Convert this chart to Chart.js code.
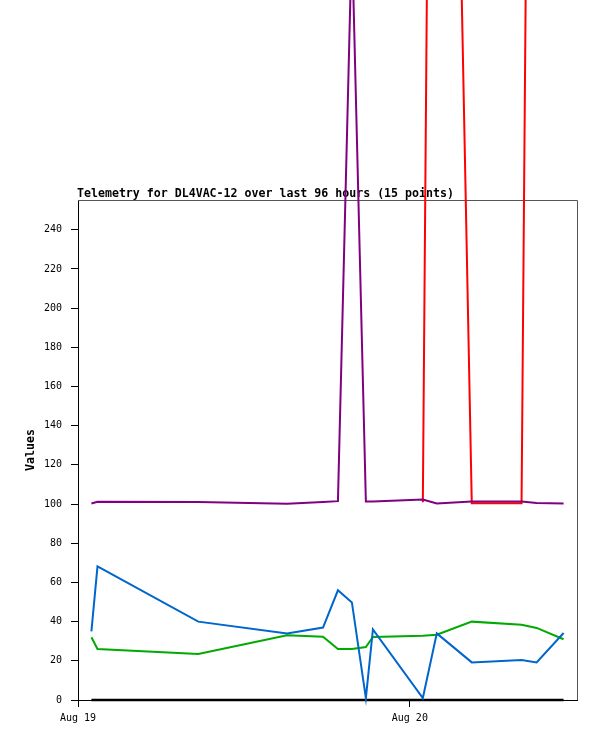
<!DOCTYPE html>
<html>
<head>
<meta charset="utf-8">
<script src="https://cdn.jsdelivr.net/npm/chart.js@4"></script>
<style>
  body { margin: 0; background: #fff; }
  canvas { display: block; }
</style>
</head>
<body>
<canvas id="myChart" width="597" height="741"></canvas>
<script>
// hours since Aug 19 00:00
var timeHours = [0.97, 1.41, 8.70, 15.12, 17.72, 18.80, 19.81, 20.82, 21.33, 24.94, 25.95, 28.48, 32.08, 33.17, 35.12];

var purpleValues = [100.3, 101.2, 101, 100.2, 101, 101.5, 390, 101.3, 101.3, 102.3, 100.3, 101.3, 101.3, 100.5, 100.3];
var redValues = [null, null, null, null, null, null, null, null, null, 100.9, 1000, 100.4, 100.4, 1050, null];
var blueValues = [35, 68.2, 40, 34, 37, 56, 49.8, 1, 36, 1, 34, 19.2, 20.4, 19.2, 34.2];
var greenValues = [32, 26, 23.5, 33, 32.3, 26, 26, 27, 32.2, 32.8, 33.3, 40, 38.4, 36.8, 31];
var blackValues = [0, 0, 0, 0, 0, 0, 0, 0, 0, 0, 0, 0, 0, 0, 0];

var xTickValues = [0, 24];
var xTickLabels = ['Aug 19', 'Aug 20'];
var titleText = 'Telemetry for DL4VAC-12 over last 96 hours (15 points)';

function points(values) {
  return values.map(function(v, i) { return { x: timeHours[i], y: v }; });
}

function serie(values, color, width) {
  return {
    data: points(values),
    borderColor: color,
    backgroundColor: color,
    borderWidth: width,
    pointRadius: 0,
    tension: 0,
    clip: false,
    spanGaps: false
  };
}

// title + grey frame, drawn before the lines so they pass over it
var frame = {
  id: 'frame',
  beforeDatasetsDraw: function(chart) {
    var ctx = chart.ctx;
    var a = chart.chartArea;
    ctx.save();
    ctx.strokeStyle = '#555';
    ctx.lineWidth = 1;
    ctx.beginPath();
    ctx.moveTo(a.left, a.top + 0.5);
    ctx.lineTo(a.right + 0.5, a.top + 0.5);
    ctx.lineTo(a.right + 0.5, a.bottom);
    ctx.stroke();
    ctx.fillStyle = '#000';
    ctx.font = 'bold 11.6px "DejaVu Sans Mono"';
    ctx.textBaseline = 'alphabetic';
    ctx.textAlign = 'left';
    ctx.fillText(titleText, a.left - 1, a.top - 3);
    ctx.restore();
  }
};

document.addEventListener('DOMContentLoaded', function() {
  var config = {
    type: 'line',
    data: {
      datasets: [
        serie(purpleValues, '#800080', 2),
        serie(redValues, '#ff0000', 2),
        serie(blueValues, '#0066cc', 2),
        serie(greenValues, '#00aa00', 2),
        serie(blackValues, '#000000', 2.5)
      ]
    },
    options: {
      responsive: false,
      animation: false,
      devicePixelRatio: 1,
      layout: { padding: { top: 200, right: 20, left: 0, bottom: 0 } },
      plugins: {
        legend: { display: false },
        tooltip: { enabled: false },
        title: { display: false }
      },
      scales: {
        x: {
          type: 'linear',
          min: 0,
          max: 36.09,
          afterBuildTicks: function(axis) {
            axis.ticks = xTickValues.map(function(v) { return { value: v }; });
          },
          afterFit: function(axis) { axis.height = 41; },
          ticks: {
            autoSkip: false,
            maxRotation: 0,
            padding: 5,
            color: '#000',
            font: { family: 'DejaVu Sans Mono', size: 10 },
            callback: function(value, index) { return xTickLabels[index]; }
          },
          grid: { drawOnChartArea: false, drawTicks: true, tickLength: 7, color: '#000' },
          border: { color: '#000', width: 1 }
        },
        y: {
          min: 0,
          max: 255.2,
          afterBuildTicks: function(axis) {
            axis.ticks = axis.ticks.filter(function(t) { return t.value % 20 === 0; });
          },
          afterFit: function(axis) { axis.width = 78; },
          ticks: {
            stepSize: 20,
            padding: 9,
            color: '#000',
            font: { family: 'DejaVu Sans Mono', size: 10 }
          },
          grid: { drawOnChartArea: false, drawTicks: true, tickLength: 7, color: '#000' },
          border: { color: '#000', width: 1 },
          title: {
            display: true,
            text: 'Values',
            color: '#000',
            padding: { top: 24, bottom: 0 },
            font: { family: 'DejaVu Sans Mono', size: 11.6, weight: 'bold' }
          }
        }
      }
    },
    plugins: [frame]
  };
  var myChart = new Chart(document.getElementById('myChart'), config);
});
</script>
</body>
</html>
